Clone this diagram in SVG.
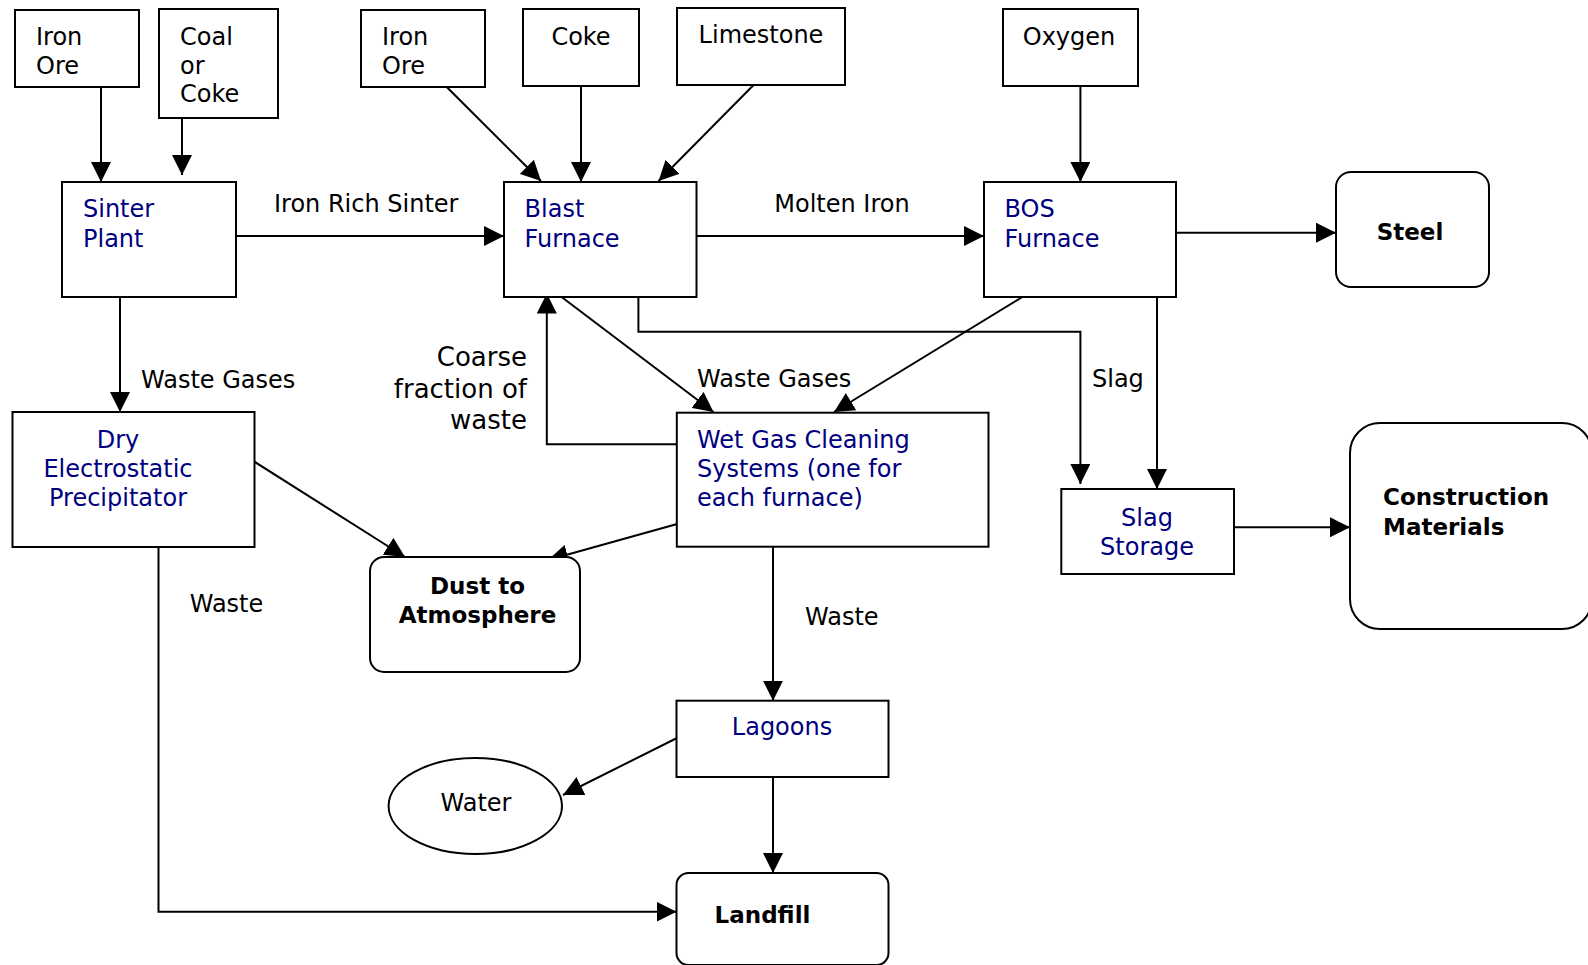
<svg xmlns="http://www.w3.org/2000/svg" width="1588" height="965" viewBox="0 0 1588 965">
<defs>
<marker id="arr" markerUnits="userSpaceOnUse" markerWidth="20" markerHeight="20" refX="20" refY="10" orient="auto">
<path d="M0,0 L20,10 L0,20 z" fill="#000"/>
</marker>
<style>
.box{fill:#fff;stroke:#000;stroke-width:2}
.ln{fill:none;stroke:#000;stroke-width:2;marker-end:url(#arr)}
.pl{fill:none;stroke:#000;stroke-width:2}
text{font-family:"DejaVu Sans",Verdana,sans-serif;font-size:24px;fill:#000}
.blue{fill:#000080}
.b{font-weight:bold;font-size:23px}
.c{text-anchor:middle}
.big{font-size:26px;text-anchor:end}
</style>
</defs>
<rect width="1588" height="965" fill="#fff"/>

<g id="connectors">
<line class="ln" x1="101" y1="87" x2="101" y2="182"/>
<line class="ln" x1="182" y1="118" x2="182" y2="175"/>
<line class="ln" x1="446.7" y1="87" x2="541" y2="181"/>
<line class="ln" x1="581" y1="86" x2="581" y2="182"/>
<line class="ln" x1="753.6" y1="85" x2="658.6" y2="181"/>
<line class="ln" x1="1080.4" y1="86" x2="1080.4" y2="182"/>
<line class="ln" x1="236" y1="236" x2="504" y2="236"/>
<line class="ln" x1="696.5" y1="236" x2="984" y2="236"/>
<line class="ln" x1="1176" y1="232.7" x2="1336" y2="232.7"/>
<line class="ln" x1="1157" y1="297" x2="1157" y2="489"/>
<polyline class="ln" points="638.4,297 638.4,331.7 1080.4,331.7 1080.4,484"/>
<line class="ln" x1="120" y1="297" x2="120" y2="412"/>
<line class="ln" x1="561.6" y1="297" x2="713.5" y2="412"/>
<line class="ln" x1="1022.4" y1="297" x2="834" y2="412"/>
<polyline class="ln" points="682,444.3 546.8,444.3 546.8,293.5"/>
<line class="ln" x1="254.4" y1="461.7" x2="405" y2="557"/>
<line class="ln" x1="681.6" y1="522.7" x2="548" y2="560"/>
<polyline class="ln" points="158.5,547 158.5,911.7 676.5,911.7"/>
<line class="ln" x1="773" y1="547" x2="773" y2="700.7"/>
<line class="ln" x1="679" y1="737" x2="563" y2="795"/>
<line class="ln" x1="773" y1="777" x2="773" y2="873"/>
<line class="ln" x1="1234" y1="527.3" x2="1350" y2="527.3"/>
<text x="274" y="212">Iron Rich Sinter</text>
<text class="c" x="842" y="212">Molten Iron</text>
<text x="141" y="388">Waste Gases</text>
<text x="697" y="387">Waste Gases</text>
<text x="1092" y="387">Slag</text>
<text class="big" x="527" y="366">Coarse</text>
<text class="big" x="527" y="397.5">fraction of</text>
<text class="big" x="527" y="429">waste</text>
<text x="189.7" y="612">Waste</text>
<text x="805" y="625">Waste</text>
</g>

<g id="iron-ore-1">
<rect class="box" x="15" y="10" width="124" height="77"/>
<text x="36" y="45">Iron</text>
<text x="36" y="73.5">Ore</text>
</g>
<g id="coal-or-coke">
<rect class="box" x="159" y="9" width="119" height="109"/>
<text x="180" y="45">Coal</text>
<text x="180" y="73.5">or</text>
<text x="180" y="102">Coke</text>
</g>
<g id="iron-ore-2">
<rect class="box" x="361" y="10" width="124" height="77"/>
<text x="382" y="45">Iron</text>
<text x="382" y="73.5">Ore</text>
</g>
<g id="coke">
<rect class="box" x="523" y="9" width="116" height="77"/>
<text class="c" x="581" y="45">Coke</text>
</g>
<g id="limestone">
<rect class="box" x="677" y="8" width="168" height="77"/>
<text class="c" x="761" y="43">Limestone</text>
</g>
<g id="oxygen">
<rect class="box" x="1003" y="9" width="135" height="77"/>
<text class="c" x="1069" y="45">Oxygen</text>
</g>
<g id="sinter-plant">
<rect class="box" x="62" y="182" width="174" height="115"/>
<text class="blue" x="83" y="217">Sinter</text>
<text class="blue" x="83" y="246.5">Plant</text>
</g>
<g id="blast-furnace">
<rect class="box" x="504" y="182" width="192.5" height="115"/>
<text class="blue" x="524.6" y="217">Blast</text>
<text class="blue" x="524.6" y="246.5">Furnace</text>
</g>
<g id="bos-furnace">
<rect class="box" x="984" y="182" width="192" height="115"/>
<text class="blue" x="1004.5" y="217">BOS</text>
<text class="blue" x="1004.5" y="246.5">Furnace</text>
</g>
<g id="steel">
<rect class="box" x="1336" y="172" width="153" height="115" rx="15" ry="15"/>
<text class="b c" x="1410" y="240">Steel</text>
</g>
<g id="dry-esp">
<rect class="box" x="12.5" y="412" width="242" height="135"/>
<text class="blue c" x="118" y="448">Dry</text>
<text class="blue c" x="118" y="477">Electrostatic</text>
<text class="blue c" x="118" y="506">Precipitator</text>
</g>
<g id="wet-gas-cleaning">
<rect class="box" x="676.8" y="412.7" width="311.7" height="134"/>
<text class="blue" x="697" y="448">Wet Gas Cleaning</text>
<text class="blue" x="697" y="477">Systems (one for</text>
<text class="blue" x="697" y="506">each furnace)</text>
</g>
<g id="slag-storage">
<rect class="box" x="1061.3" y="489" width="172.7" height="85"/>
<text class="blue c" x="1147" y="526">Slag</text>
<text class="blue c" x="1147" y="554.5">Storage</text>
</g>
<g id="construction-materials">
<rect class="box" x="1350" y="423" width="242" height="206" rx="30" ry="30"/>
<text class="b" x="1383" y="505">Construction</text>
<text class="b" x="1383" y="535">Materials</text>
</g>
<g id="dust-to-atmosphere">
<rect class="box" x="370" y="557" width="210" height="115" rx="14" ry="14"/>
<text class="b c" x="477.5" y="593.5">Dust to</text>
<text class="b c" x="477.5" y="623">Atmosphere</text>
</g>
<g id="lagoons">
<rect class="box" x="676.5" y="700.7" width="212" height="76.3"/>
<text class="blue c" x="782" y="735">Lagoons</text>
</g>
<g id="water">
<ellipse class="box" cx="475.3" cy="806" rx="86.7" ry="48"/>
<text class="c" x="476" y="811">Water</text>
</g>
<g id="landfill">
<rect class="box" x="676.5" y="873" width="212" height="92" rx="12" ry="12"/>
<text class="b c" x="762.5" y="923">Landfill</text>
</g>
</svg>
